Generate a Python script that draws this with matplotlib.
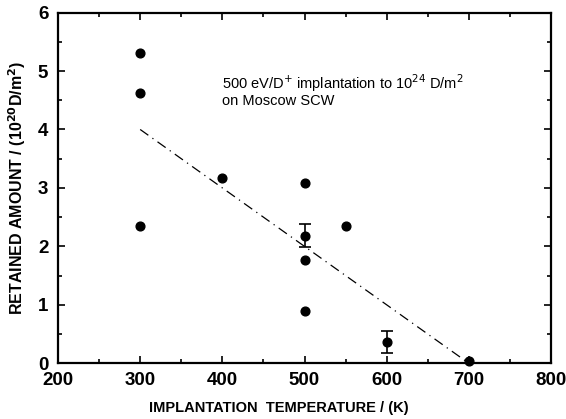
import matplotlib
matplotlib.use("Agg")
import matplotlib.pyplot as plt
from matplotlib.ticker import MultipleLocator

plt.rcParams['font.family'] = ['Liberation Sans', 'DejaVu Sans']

# data
temps = [300, 300, 300, 400, 500, 500, 500, 500, 550, 600, 700]
amounts = [5.31, 4.63, 2.35, 3.17, 3.08, 2.18, 1.77, 0.90, 2.35, 0.37, 0.04]

# points with error bars
err_temps = [500, 600]
err_vals = [2.18, 0.37]
err_lo = [0.19, 0.20]
err_hi = [0.20, 0.19]

# fitted trend line
fit_x = [300, 700]
fit_y = [4.0, 0.0]

fig = plt.figure(figsize=(5.66, 4.19), dpi=100)
ax = fig.add_axes([0.1025, 0.133, 0.871, 0.837])

ax.plot(fit_x, fit_y, color='black', lw=0.9, dashes=(8, 4, 1, 4))
ax.errorbar(err_temps, err_vals, yerr=[err_lo, err_hi], fmt='none',
            ecolor='black', elinewidth=1.2, capsize=4, capthick=1.2)
ax.plot(temps, amounts, 'o', color='black', ms=6.3, clip_on=False, zorder=5)

ax.set_xlim(200, 800)
ax.set_ylim(0, 6)
ax.xaxis.set_major_locator(MultipleLocator(100))
ax.xaxis.set_minor_locator(MultipleLocator(50))
ax.yaxis.set_major_locator(MultipleLocator(1))
ax.yaxis.set_minor_locator(MultipleLocator(0.5))
ax.tick_params(which='both', direction='in', top=True, right=True, width=1.2)
ax.tick_params(which='major', length=5, labelsize=13.5)
ax.tick_params(axis='x', which='major', pad=6)
ax.tick_params(axis='y', which='major', pad=7)
ax.tick_params(which='minor', length=3)
for lab in ax.get_xticklabels() + ax.get_yticklabels():
    lab.set_fontweight('bold')
for sp in ax.spines.values():
    sp.set_linewidth(1.6)

ax.set_xlabel('IMPLANTATION  TEMPERATURE / (K)', fontsize=10.5,
              fontweight='bold')
ax.xaxis.set_label_coords(0.448, -0.108)
ax.set_ylabel('RETAINED AMOUNT / (10$^{\\mathbf{20}}$D/m$^{\\mathbf{2}}$)',
              fontsize=11.5, fontweight='bold')
ax.yaxis.set_label_coords(-0.06, 0.5)

ax.text(399, 4.42, '500 eV/D$^{+}$ implantation to 10$^{24}$ D/m$^{2}$\non Moscow SCW',
        fontsize=10.5, va='baseline', linespacing=0.95)

fig.savefig('out.png', dpi=100)
